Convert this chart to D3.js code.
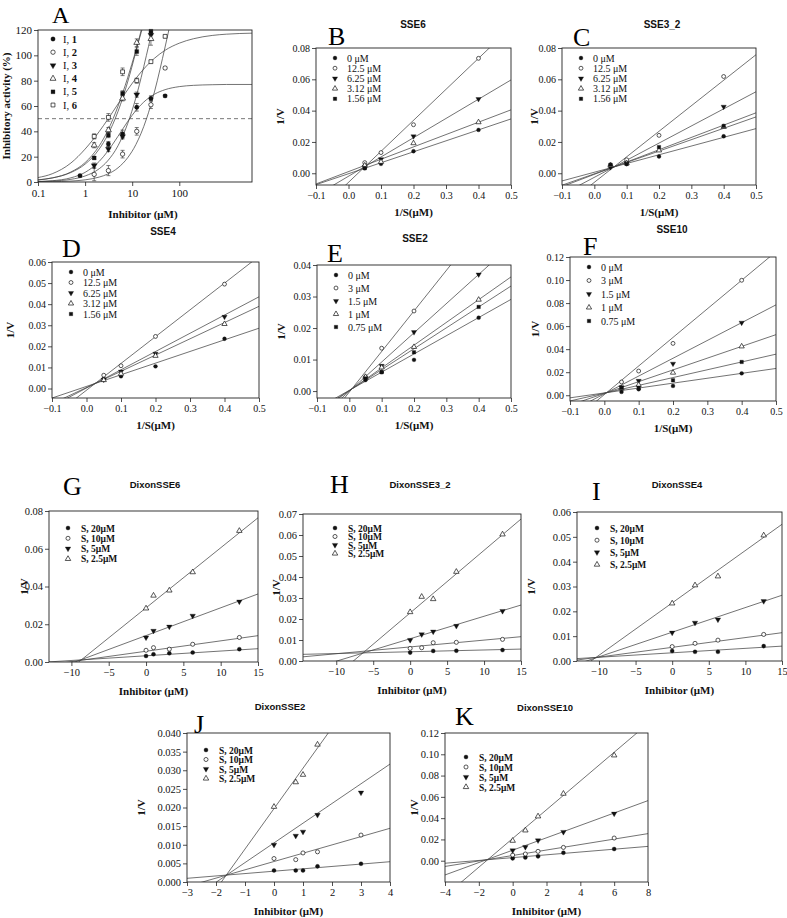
<!DOCTYPE html>
<html><head><meta charset="utf-8">
<script src="https://cdn.jsdelivr.net/npm/d3@7"></script>
<style>body{margin:0;background:#fff}svg{display:block}</style>
</head><body>
<svg id="c" width="787" height="918"></svg>
<script>
// ---------------- DATA ----------------
// Panel A: dose-response
const aNames = ["1", "2", "3", "4", "5", "6"];
const aSymbols = ["fc", "oc", "td", "ot", "fs", "os"];
const aX = [
  [0.78, 3.125, 6.25, 12.5, 25, 50],
  [1.56, 3.125, 6.25, 12.5, 25, 50],
  [1.56, 3.125, 6.25, 12.5, 25],
  [1.56, 3.125, 6.25, 12.5, 25],
  [1.56, 3.125, 6.25, 12.5, 25],
  [1.56, 3.125, 6.25, 12.5, 25, 50]
];
const aY = [
  [5, 30, 38, 59, 66, 68],
  [6, 9, 22, 40, 61, 90],
  [13, 26, 36, 69, 116],
  [29, 41, 66, 110, 113],
  [19, 37, 70, 103, 119],
  [36, 51, 87, 80, 95, 115]
];
const aErr = [
  [1, 2, 3, 3, 2, 1],
  [5, 4, 3, 3, 3, 1],
  [2, 2, 2, 2, 3],
  [2, 2, 2, 3, 5],
  [1, 2, 2, 3, 2],
  [2, 3, 3, 2, 1, 1]
];
const aCurveX = [0.1, 0.2, 0.5, 1, 2, 3, 5, 8, 12, 20, 30, 50, 100, 200, 500, 1000, 3500];
const aCurveY = [
  [0.4, 1.0, 3.3, 7.6, 16.3, 24.1, 36.1, 47.7, 56.5, 64.9, 69.4, 72.9, 75.3, 76.3, 76.8, 77, 77],
  [0.1, 0.25, 0.74, 1.7, 3.9, 6.2, 11.2, 19.1, 29.6, 49.6, 71.8, 106.6, 157.7, 200, 240, 247, 250],
  [0.32, 0.72, 2.1, 4.75, 10.5, 16.6, 28.6, 46, 66.6, 99.8, 129, 170, 215, 237, 246, 248, 250],
  [1.7, 3.2, 7.5, 14.1, 26.1, 36.9, 55.7, 78.9, 103.1, 137.9, 170, 210, 250, 272, 287, 293, 298],
  [1.6, 3.2, 7.9, 15.3, 28.6, 40.2, 59.8, 82.2, 103.9, 131.7, 152, 173, 194, 206, 213, 216, 219],
  [3.5, 6.5, 15, 26, 39.9, 49.2, 61.6, 72.8, 81.8, 91.5, 97.8, 104, 109.6, 113.1, 115.7, 116.7, 117.5]
];
const aRef = 50;
const aXTicks = [0.1, 1, 10, 100];
const aYTicks = [0, 20, 40, 60, 80, 100, 120];

// Lineweaver-Burk panels (B-F)
const lbX = [0.05, 0.1, 0.2, 0.4];
const lbXTicks = [-0.1, 0, 0.1, 0.2, 0.3, 0.4, 0.5];
const lbLabelsA = ["0 \u03bcM", "12.5 \u03bcM", "6.25 \u03bcM", "3.12 \u03bcM", "1.56 \u03bcM"];
const lbLabelsB = ["0 \u03bcM", "3 \u03bcM", "1.5 \u03bcM", "1 \u03bcM", "0.75 \u03bcM"];
const lbSymbols = ["fc", "oc", "td", "ot", "fs"];

const sse6Y = [
  [0.0032, 0.006, 0.0141, 0.0277],
  [0.0068, 0.0132, 0.031, 0.0734],
  [0.0043, 0.009, 0.0236, 0.0474],
  [0.005, 0.0073, 0.0192, 0.0326],
  [0.0033, null, null, null]
];
const sse6Fit = [[0.070, -0.0003], [0.198, -0.0058], [0.123, -0.0019], [0.0789, 0.00105], null];

const sse3Y = [
  [0.0045, 0.006, 0.0107, 0.0236],
  [0.0054, 0.0086, 0.0242, 0.0618],
  [0.0039, 0.0064, null, 0.0425],
  [0.0049, 0.0064, 0.0146, 0.0296],
  [0.0054, 0.006, 0.0167, 0.0302]
];
const sse3Fit = [[0.0557, 0.00066], [0.163, -0.0058], [0.1093, -0.0026], [0.0727, -0.00036], [0.0786, -0.0007]];

const sse4Y = [
  [0.0045, 0.0058, 0.0105, 0.0236],
  [0.0063, 0.0108, 0.0247, 0.0495],
  [0.0042, 0.008, 0.0165, 0.034],
  [0.004, 0.007, 0.0155, 0.0306],
  [null, null, null, null]
];
const sse4Fit = [[0.0552, 0.0010], [0.127, -0.0008], [0.0865, 0.00024], [0.077, 0.00047], null];

const sse2Y = [
  [0.0035, 0.006, 0.0099, 0.0233],
  [0.0045, 0.0136, 0.0254, null],
  [0.004, 0.008, 0.0187, 0.037],
  [0.0045, 0.0075, 0.014, 0.029],
  [0.004, 0.006, 0.0123, 0.0267]
];
const sse2Fit = [[0.0577, 0.00024], [0.1286, -0.0003], [0.0926, -0.00004], [0.0722, 0.00012], [0.0663, 0.00017]];

const sse10Y = [
  [0.0029, 0.0052, 0.0081, 0.019],
  [0.0115, 0.021, 0.045, 0.0998],
  [0.007, 0.0125, 0.0274, 0.063],
  [0.006, 0.009, 0.0196, 0.0424],
  [0.0065, 0.0065, 0.013, 0.0289]
];
const sse10Fit = [[0.0425, 0.0020], [0.248, 0.0006], [0.1545, 0.0012], [0.102, 0.0016], [0.0677, 0.0018]];

// Dixon panels (G-K)
const dxLabels = ["S, 20\u03bcM", "S, 10\u03bcM", "S, 5\u03bcM", "S, 2.5\u03bcM"];
const dxSymbols = ["fc", "oc", "td", "ot"];

const dxSSE6X = [0, 1, 3.12, 6.25, 12.5];
const dxSSE6Y = [
  [0.0032, 0.0041, 0.0046, 0.005, 0.0068],
  [0.0062, 0.0076, 0.0068, 0.0094, 0.013],
  [0.013, 0.0165, 0.0187, 0.0245, 0.032],
  [0.0284, 0.0352, 0.0379, 0.0476, 0.0695]
];
const dxSSE6Fit = [[0.00025, 0.0033], [0.00055, 0.0057], [0.00147, 0.014], [0.00318, 0.0287]];

const dxSSE3X = [0, 1.56, 3.12, 6.25, 12.5];
const dxSSE3Y = [
  [0.004, null, 0.0048, 0.0049, 0.0052],
  [0.006, 0.0063, 0.0087, 0.0089, 0.0103],
  [0.010, 0.0127, 0.014, 0.0167, 0.0238],
  [0.0233, 0.0306, 0.0295, 0.0425, 0.0603]
];
const dxSSE3Fit = [[0.0000847, 0.0044], [0.000325, 0.0067], [0.00107, 0.0106], [0.00298, 0.0229]];

const dxSSE4X = [0, 3.12, 6.25, 12.5];
const dxSSE4Y = [
  [0.004, 0.0037, 0.0037, 0.006],
  [0.0058, 0.0071, 0.0084, 0.0107],
  [0.0114, 0.0154, 0.0167, 0.0241],
  [0.0232, 0.0305, 0.0341, 0.0506]
];
const dxSSE4Fit = [[0.000179, 0.0033], [0.000393, 0.0055], [0.000992, 0.0116], [0.00211, 0.0234]];

const dxSSE2X = [0, 0.75, 1, 1.5, 3];
const dxSSE2Y = [
  [0.0031, 0.0031, 0.0031, 0.0042, 0.0049],
  [0.0063, 0.006, 0.0078, 0.0081, 0.0126],
  [0.010, 0.0124, 0.0135, 0.018, 0.024],
  [0.0202, 0.0268, 0.0288, 0.0369, null]
];
const dxSSE2Fit = [[0.000637, 0.0029], [0.00223, 0.0055], [0.00529, 0.0105], [0.01085, 0.0197]];

const dxSSE10X = [0, 0.75, 1.5, 3, 6];
const dxSSE10Y = [
  [0.0022, 0.003, 0.0041, 0.0075, 0.011],
  [0.0053, 0.0063, 0.0088, 0.0125, 0.0213],
  [0.0097, 0.0129, 0.0191, 0.027, 0.0442],
  [0.0188, 0.0285, 0.0417, 0.063, 0.099]
];
const dxSSE10Fit = [[0.00132, 0.0029], [0.00257, 0.0049], [0.00582, 0.0099], [0.0135, 0.0209]];

// ---------------- DRAWING ----------------
const SERIF = "'Liberation Serif','Times New Roman',serif";
const SANS = "'Liberation Sans',Arial,sans-serif";
const LINE = "#444";
const svg = d3.select("#c");
let clipN = 0;

function symbolPath(code, size) {
  const type = (code === "fc" || code === "oc") ? d3.symbolCircle
    : (code === "fs" || code === "os") ? d3.symbolSquare : d3.symbolTriangle;
  return d3.symbol().type(type).size(size)();
}
function drawMarker(g, code, cx, cy, size) {
  const open = code[0] === "o";
  g.append("path").attr("d", symbolPath(code, size))
    .attr("transform", `translate(${cx},${cy})` + (code === "td" ? " rotate(180)" : ""))
    .attr("fill", open ? "#fff" : "#111")
    .attr("stroke", "#111").attr("stroke-width", open ? 0.7 : 0.3);
}

function panel(c) {
  const g = svg.append("g");
  const x = (c.log ? d3.scaleLog() : d3.scaleLinear()).domain(c.xd).range([c.l, c.r]);
  const y = d3.scaleLinear().domain(c.yd).range([c.b, c.t]);
  const id = "clip" + (clipN++);
  svg.append("clipPath").attr("id", id).append("rect")
    .attr("x", c.l).attr("y", c.t).attr("width", c.r - c.l).attr("height", c.b - c.t);
  const inner = g.append("g").attr("clip-path", `url(#${id})`);

  if (c.ref !== undefined) {
    inner.append("line").attr("x1", c.l).attr("x2", c.r).attr("y1", y(c.ref)).attr("y2", y(c.ref))
      .attr("stroke", "#555").attr("stroke-width", 0.8).attr("stroke-dasharray", "4,3");
  }
  if (c.fits) {
    c.fits.forEach(f => {
      if (!f) return;
      const [m, b] = f;
      inner.append("line")
        .attr("x1", x(c.xd[0])).attr("y1", y(m * c.xd[0] + b))
        .attr("x2", x(c.xd[1])).attr("y2", y(m * c.xd[1] + b))
        .attr("stroke", LINE).attr("stroke-width", 0.75);
    });
  }
  if (c.curves) {
    const line = d3.line().x(d => x(d[0])).y(d => y(d[1])).curve(d3.curveMonotoneX);
    c.curves.forEach(cy => {
      inner.append("path").attr("d", line(c.curveX.map((v, i) => [v, cy[i]])))
        .attr("fill", "none").attr("stroke", LINE).attr("stroke-width", 0.75);
    });
  }
  if (c.err) {
    c.series.forEach((s, si) => {
      s.x.forEach((xv, i) => {
        const yv = s.y[i], e = c.err[si][i];
        if (yv == null || !e) return;
        const px = x(xv);
        inner.append("line").attr("x1", px).attr("x2", px).attr("y1", y(yv - e)).attr("y2", y(yv + e))
          .attr("stroke", "#444").attr("stroke-width", 0.7);
        [yv - e, yv + e].forEach(v => inner.append("line").attr("x1", px - 2).attr("x2", px + 2)
          .attr("y1", y(v)).attr("y2", y(v)).attr("stroke", "#444").attr("stroke-width", 0.7));
      });
    });
  }
  c.series.forEach(s => {
    s.x.forEach((xv, i) => {
      const yv = s.y[i];
      if (yv == null) return;
      if (yv > c.yd[1] + 1e-9 || yv < c.yd[0]) return;
      drawMarker(g, s.sym, x(xv), y(yv), c.ms);
    });
  });
  const ax = d3.axisBottom(x).tickValues(c.xTicks).tickFormat(c.xFmt).tickSizeInner(4).tickSizeOuter(0).tickPadding(3);
  const ay = d3.axisLeft(y).tickValues(c.yTicks).tickFormat(c.yFmt).tickSizeInner(4).tickSizeOuter(0).tickPadding(2);
  const gx = g.append("g").attr("transform", `translate(0,${c.b})`).call(ax);
  const gy = g.append("g").attr("transform", `translate(${c.l},0)`).call(ay);
  [gx, gy].forEach(a => {
    a.select(".domain").remove();
    a.selectAll(".tick line").attr("stroke", "#222").attr("stroke-width", 0.8);
    a.selectAll(".tick text").attr("font-family", SERIF).attr("font-size", c.fs).attr("fill", "#111");
  });
  g.append("rect").attr("x", c.l).attr("y", c.t).attr("width", c.r - c.l).attr("height", c.b - c.t)
    .attr("fill", "none").attr("stroke", "#222").attr("stroke-width", 0.9);

  if (c.title) g.append("text").attr("x", c.title[1]).attr("y", c.title[2]).attr("text-anchor", "middle")
    .attr("font-family", SANS).attr("font-weight", "bold").attr("font-size", c.titleFs || 10).attr("fill", "#111").text(c.title[0]);
  g.append("text").attr("x", c.letter[1]).attr("y", c.letter[2]).attr("font-family", SERIF)
    .attr("font-size", c.letterFs || 26).attr("fill", "#000").text(c.letter[0]);
  g.append("text").attr("x", c.xLabel[1]).attr("y", c.xLabel[2]).attr("text-anchor", "middle")
    .attr("font-family", SERIF).attr("font-weight", "bold").attr("font-size", 11).attr("fill", "#111").text(c.xLabel[0]);
  g.append("text").attr("transform", `translate(${c.yLabel[1]},${c.yLabel[2]}) rotate(-90)`).attr("text-anchor", "middle")
    .attr("font-family", SERIF).attr("font-weight", "bold").attr("font-size", 11).attr("fill", "#111").text(c.yLabel[0]);

  const L = c.legend;
  L.labels.forEach((lab, i) => {
    const yy = L.y + i * L.dy;
    drawMarker(g, L.syms[i], L.mx, yy, c.ms);
    const t = g.append("text").attr("x", L.tx).attr("y", yy + 3.5).attr("font-family", SERIF)
      .attr("font-size", L.fs).attr("fill", "#111").attr("font-weight", L.bold ? "bold" : "normal");
    if (L.prefix) {
      t.append("tspan").text(L.prefix);
      t.append("tspan").attr("font-weight", "bold").text(lab);
    } else t.text(lab);
  });
}

const f2 = d3.format(".2f"), f1 = d3.format(".1f"), f3 = d3.format(".3f"), f0 = d3.format("d");
const aFmt = d => (d < 1 ? String(d) : d3.format("d")(d));

// Panel A
panel({
  l: 38, r: 252, t: 30, b: 182, log: true, xd: [0.1, 3500], yd: [0, 120],
  xTicks: aXTicks, yTicks: aYTicks, xFmt: aFmt, yFmt: f0, fs: 11, ms: 15,
  ref: aRef, curveX: aCurveX, curves: aCurveY, err: aErr,
  series: aX.map((xs, i) => ({ x: xs, y: aY[i], sym: aSymbols[i] })),
  letter: ["A", 52, 23], letterFs: 24, xLabel: ["Inhibitor (\u03bcM)", 143, 218], yLabel: ["Inhibitory activity (%)", 10, 106],
  legend: { labels: aNames, syms: aSymbols, prefix: "I, ", mx: 53, tx: 63, y: 39, dy: 13.2, fs: 10.5 }
});

function lbPanel(o) {
  panel({
    l: o.l, r: o.r, t: o.t, b: o.b, xd: [-0.1, 0.5], yd: o.yd,
    xTicks: lbXTicks, yTicks: o.yTicks, xFmt: f1, yFmt: f2, fs: 10, ms: 12,
    fits: o.fits, series: o.ys.map((ys, i) => ({ x: lbX, y: ys, sym: lbSymbols[i] })),
    title: [o.title, o.tx, o.ty], letter: [o.letter, o.lx, o.ly],
    xLabel: ["1/S(\u03bcM)", (o.l + o.r) / 2, o.b + 31], yLabel: ["1/V", o.yl, (o.t + o.b) / 2],
    legend: { labels: o.labels, syms: lbSymbols, mx: o.l + 19, tx: o.l + 31, y: o.t + 10, dy: o.dy, fs: 10 }
  });
}
lbPanel({ l: 316, r: 511, t: 48, b: 185, yd: [-0.0075, 0.08], yTicks: [0, 0.02, 0.04, 0.06, 0.08],
  fits: sse6Fit, ys: sse6Y, title: "SSE6", tx: 413, ty: 28, letter: "B", lx: 328, ly: 45, yl: 284, labels: lbLabelsA, dy: 10.2 });
lbPanel({ l: 562, r: 756, t: 48, b: 185, yd: [-0.0075, 0.08], yTicks: [0, 0.02, 0.04, 0.06, 0.08],
  fits: sse3Fit, ys: sse3Y, title: "SSE3_2", tx: 662, ty: 28, letter: "C", lx: 573, ly: 46, yl: 538, labels: lbLabelsA, dy: 10.2 });
lbPanel({ l: 52, r: 259, t: 262, b: 398, yd: [-0.0045, 0.06], yTicks: [0, 0.01, 0.02, 0.03, 0.04, 0.05, 0.06],
  fits: sse4Fit, ys: sse4Y, title: "SSE4", tx: 163, ty: 235, letter: "D", lx: 62, ly: 257, yl: 14, labels: lbLabelsA, dy: 10.5 });
lbPanel({ l: 317, r: 511, t: 265, b: 398, yd: [-0.0022, 0.04], yTicks: [0, 0.01, 0.02, 0.03, 0.04],
  fits: sse2Fit, ys: sse2Y, title: "SSE2", tx: 415, ty: 242, letter: "E", lx: 327, ly: 262, yl: 285, labels: lbLabelsB, dy: 13 });
lbPanel({ l: 570, r: 776, t: 257, b: 401, yd: [-0.005, 0.12], yTicks: [0, 0.02, 0.04, 0.06, 0.08, 0.10, 0.12],
  fits: sse10Fit, ys: sse10Y, title: "SSE10", tx: 672, ty: 233, letter: "F", lx: 583, ly: 255, yl: 539, labels: lbLabelsB, dy: 13.5 });

function dxPanel(o) {
  panel({
    l: o.l, r: o.r, t: o.t, b: o.b, xd: o.xd, yd: o.yd,
    xTicks: o.xTicks, yTicks: o.yTicks, xFmt: f0, yFmt: o.yFmt || f2, fs: 10.5, ms: 13,
    fits: o.fits, series: o.ys.map((ys, i) => ({ x: o.xs, y: ys, sym: dxSymbols[i] })),
    title: [o.title, o.tx, o.ty], titleFs: 9.5, letter: [o.letter, o.lx, o.ly],
    xLabel: ["Inhibitor (\u03bcM)", (o.l + o.r) / 2, o.b + 33], yLabel: ["1/V", o.yl, (o.t + o.b) / 2],
    legend: { labels: dxLabels, syms: dxSymbols, mx: o.l + o.lgx, tx: o.l + o.lgx + 13, y: o.t + o.lgy, dy: o.dy, fs: 9.5, bold: true }
  });
}
dxPanel({ l: 49, r: 258, t: 511, b: 662, xd: [-13, 15], yd: [0, 0.08], xTicks: [-10, -5, 0, 5, 10, 15], yTicks: [0, 0.02, 0.04, 0.06, 0.08],
  xs: dxSSE6X, ys: dxSSE6Y, fits: dxSSE6Fit, title: "DixonSSE6", tx: 155, ty: 488, letter: "G", lx: 63, ly: 495, yl: 28, lgx: 19, lgy: 17, dy: 10.3 });
dxPanel({ l: 303, r: 521, t: 514, b: 661, xd: [-14.5, 15], yd: [0, 0.07], xTicks: [-10, -5, 0, 5, 10, 15], yTicks: [0, 0.01, 0.02, 0.03, 0.04, 0.05, 0.06, 0.07],
  xs: dxSSE3X, ys: dxSSE3Y, fits: dxSSE3Fit, title: "DixonSSE3_2", tx: 420, ty: 488, letter: "H", lx: 330, ly: 493, yl: 280, lgx: 32, lgy: 14, dy: 8.5 });
dxPanel({ l: 577, r: 782, t: 512, b: 661, xd: [-13, 15], yd: [0, 0.06], xTicks: [-10, -5, 0, 5, 10, 15], yTicks: [0, 0.01, 0.02, 0.03, 0.04, 0.05, 0.06],
  xs: dxSSE4X, ys: dxSSE4Y, fits: dxSSE4Fit, title: "DixonSSE4", tx: 677, ty: 488, letter: "I", lx: 592, ly: 500, yl: 535, lgx: 20, lgy: 16, dy: 12.2 });
dxPanel({ l: 187, r: 390, t: 733, b: 882, xd: [-3, 4], yd: [0, 0.04], xTicks: [-3, -2, -1, 0, 1, 2, 3, 4], yTicks: d3.range(0, 0.0401, 0.005), yFmt: f3,
  xs: dxSSE2X, ys: dxSSE2Y, fits: dxSSE2Fit, title: "DixonSSE2", tx: 280, ty: 710, letter: "J", lx: 194, ly: 733, yl: 145, lgx: 19, lgy: 17, dy: 9.5 });
dxPanel({ l: 445, r: 648, t: 733, b: 882, xd: [-4, 8], yd: [-0.02, 0.12], xTicks: [-4, -2, 0, 2, 4, 6, 8], yTicks: [0, 0.02, 0.04, 0.06, 0.08, 0.10, 0.12],
  xs: dxSSE10X, ys: dxSSE10Y, fits: dxSSE10Fit, title: "DixonSSE10", tx: 545, ty: 711, letter: "K", lx: 455, ly: 725, yl: 418, lgx: 21, lgy: 24, dy: 10 });
</script>
</body></html>
